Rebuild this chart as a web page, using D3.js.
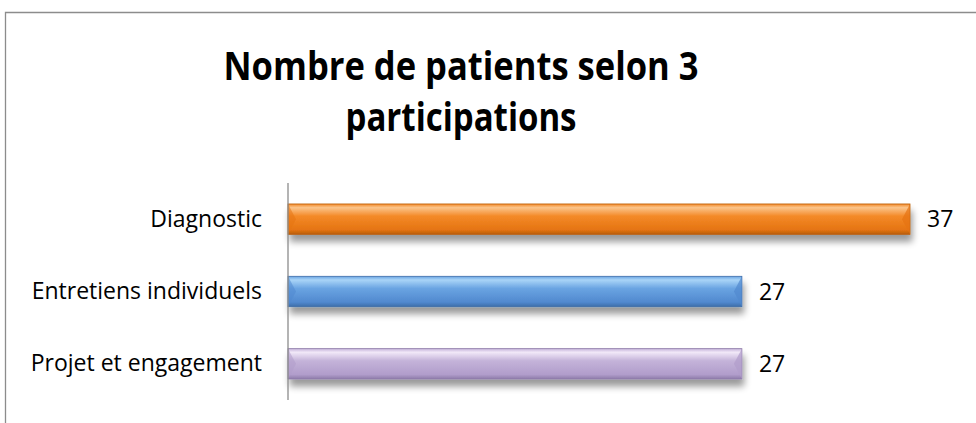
<!DOCTYPE html>
<html><head><meta charset="utf-8">
<script src="https://cdn.jsdelivr.net/npm/d3@7"></script>
<style>
html,body{margin:0;padding:0;background:#fff;}
svg{display:block;}
</style></head>
<body>
<svg id="chart" width="976" height="423"></svg>
<script>
const categories = ["Diagnostic", "Entretiens individuels", "Projet et engagement"];
const values = [37, 27, 27];
const titleLines = ["Nombre de patients selon 3", "participations"];
const palette = [
  {top:"#FBC48A", mid:"#F48A28", low:"#E57412", edge:"#B85E10"},
  {top:"#A9D4F7", mid:"#6AA4E2", low:"#5189CF", edge:"#3E6DA8"},
  {top:"#F1E8F8", mid:"#C4B3D9", low:"#B19DCB", edge:"#8E7BA9"}
];

const svg = d3.select("#chart");
const W = 976, H = 423;
const FONT = "'Open Sans', 'DejaVu Sans', sans-serif";

// frame (cropped at right and bottom)
svg.append("path").attr("d", `M5.5,${H} V12.5 H${W}`).attr("fill","none").attr("stroke","#8c8c8c").attr("stroke-width",1.3);

// title
const title = svg.append("g").attr("font-family", FONT).attr("font-weight", 700).attr("font-size", 39).attr("fill","#000");
const tw = [475, 231];
[80, 131].forEach((yy, i) => {
  const t = title.append("text").attr("x", 461).attr("y", yy).attr("text-anchor","middle").text(titleLines[i]);
  if (t.node().getComputedTextLength() > tw[i]) t.attr("textLength", tw[i]).attr("lengthAdjust","spacingAndGlyphs");
});

const x0 = 288;
const x = d3.scaleLinear().domain([0, 37]).range([x0, 910]);
const y = d3.scaleBand().domain(categories).range([183, 400]).paddingInner(0.58).paddingOuter(0.29);

const defs = svg.append("defs");
palette.forEach((p, i) => {
  const g = defs.append("linearGradient").attr("id","g"+i).attr("x1",0).attr("y1",0).attr("x2",0).attr("y2",1);
  g.append("stop").attr("offset","0%").attr("stop-color", p.mid);
  g.append("stop").attr("offset","12%").attr("stop-color", p.top);
  g.append("stop").attr("offset","40%").attr("stop-color", p.mid);
  g.append("stop").attr("offset","85%").attr("stop-color", p.low);
  g.append("stop").attr("offset","100%").attr("stop-color", p.edge);
});
const f = defs.append("filter").attr("id","sh").attr("x","-5%").attr("y","-30%").attr("width","110%").attr("height","190%");
f.append("feGaussianBlur").attr("in","SourceAlpha").attr("stdDeviation",3.5).attr("result","b");
f.append("feOffset").attr("in","b").attr("dx",2).attr("dy",7).attr("result","o");
f.append("feComponentTransfer").attr("in","o").attr("result","s").append("feFuncA").attr("type","linear").attr("slope",0.4);
const m = f.append("feMerge");
m.append("feMergeNode").attr("in","s");
m.append("feMergeNode").attr("in","SourceGraphic");

const bars = svg.append("g").selectAll("g").data(categories).join("g");
bars.append("rect")
  .attr("x", x(0)).attr("y", d => y(d))
  .attr("width", (d,i) => x(values[i]) - x(0)).attr("height", y.bandwidth())
  .attr("fill", (d,i) => `url(#g${i})`)
  .attr("stroke", (d,i) => palette[i].edge).attr("stroke-width", 0.8)
  .attr("filter","url(#sh)");
// bevel facets at the ends
const bv = 8;
bars.append("path")
  .attr("d", (d,i) => { const a=x(0), b=y(d), h=y.bandwidth(); return `M${a},${b} L${a+bv},${b+h/2} L${a},${b+h} Z`; })
  .attr("fill", (d,i) => palette[i].low).attr("opacity",0.55);
bars.append("path")
  .attr("d", (d,i) => { const a=x(values[i]), b=y(d), h=y.bandwidth(); return `M${a},${b} L${a-bv},${b+h/2} L${a},${b+h} Z`; })
  .attr("fill", (d,i) => palette[i].low).attr("opacity",0.7);

// value labels
svg.append("g").selectAll("text").data(categories).join("text")
  .attr("x", (d,i) => x(values[i]) + 17).attr("y", d => y(d) + y.bandwidth()/2)
  .attr("dy","0.36em").attr("font-family", FONT).attr("font-size", 23).attr("fill","#000")
  .text((d,i) => values[i]);

// axis
const ax = svg.append("g").attr("transform", `translate(${x0},0)`)
  .call(d3.axisLeft(y).tickSize(0).tickPadding(26));
ax.select(".domain").attr("stroke","#8c8c8c").attr("stroke-width",1.3).attr("d","M0,183V400");
ax.selectAll(".tick text").attr("font-family", FONT).attr("font-size", 23).attr("fill","#000");
</script>
</body></html>
